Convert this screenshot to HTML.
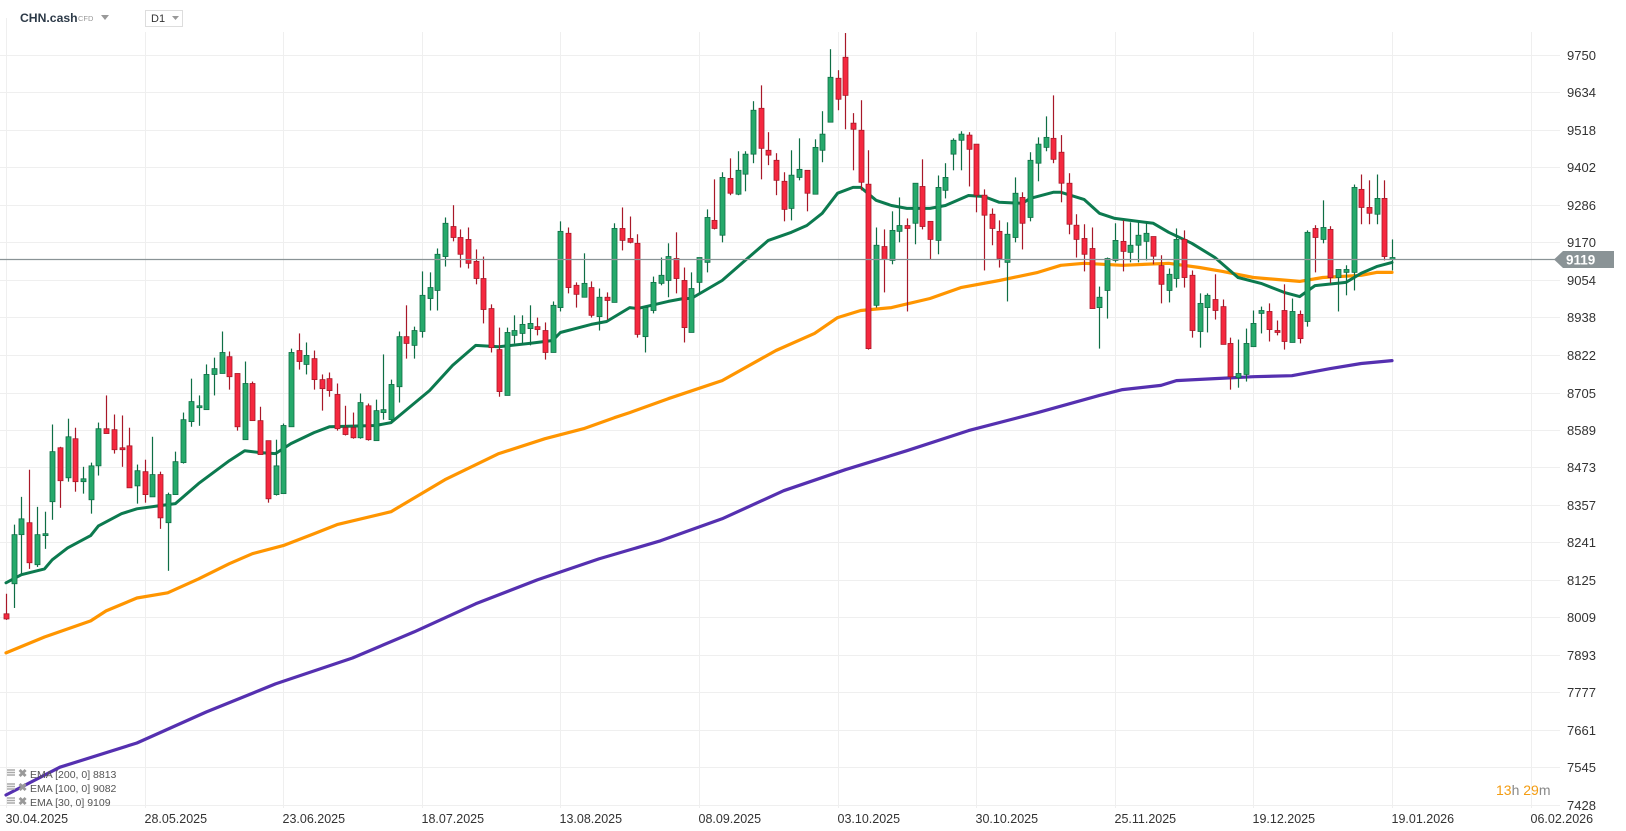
<!DOCTYPE html>
<html><head><meta charset="utf-8"><style>
html,body{margin:0;padding:0;background:#fff;}
svg{display:block;font-family:"Liberation Sans",sans-serif;}
</style></head><body>
<svg id="chart" width="1626" height="831" viewBox="0 0 1626 831">
  <g id="grid"></g>
  <g id="yaxis"></g>
  <g id="xaxis"></g>
  <g id="emas"></g>
  <g id="candles"></g>
  <g id="pricebox"></g>
  <g>
    <text x="20" y="22" font-size="12.2" font-weight="bold" fill="#2d3a48">CHN.cash</text>
    <text x="78" y="21" font-size="7.5" fill="#999">CFD</text>
    <path d="M101 15 L109 15 L105 20 Z" fill="#999"/>
    <rect x="145.5" y="10.5" width="37" height="16" fill="#fff" stroke="#ddd"/>
    <text x="151" y="22" font-size="11" fill="#333">D1</text>
    <path d="M172 16 L179 16 L175.5 20 Z" fill="#999"/>
  </g>
  <g id="legend"></g>
  <text x="1496" y="795" font-size="14"><tspan fill="#f39c12">13</tspan><tspan fill="#888">h </tspan><tspan fill="#f39c12">29</tspan><tspan fill="#888">m</tspan></text>
</svg>
<script>
const opens=[8020,8113,8265,8302,8172,8262,8367,8534,8441,8562,8429,8373,8478,8593,8590,8534,8540,8416,8460,8382,8451,8302,8389,8488,8615,8658,8652,8761,8764,8816,8764,8559,8733,8618,8556,8389,8392,8599,8835,8792,8810,8745,8748,8699,8596,8596,8565,8664,8556,8643,8621,8723,8878,8851,8894,8996,9021,9126,9219,9185,9179,9111,9058,8965,8838,8696,8882,8888,8903,8909,8897,8829,8968,9198,9037,9000,9030,8940,9000,8984,9213,9182,9167,8878,8959,9043,9052,9120,9052,8891,9046,9108,9238,9192,9368,9319,9381,9443,9585,9455,9424,9359,9275,9371,9393,9319,9455,9542,9678,9743,9539,9517,9350,8975,9157,9114,9204,9222,9229,9343,9235,9176,9331,9443,9486,9502,9474,9316,9257,9204,9108,9185,9309,9247,9415,9464,9492,9449,9353,9223,9182,9151,8968,9021,9114,9173,9139,9161,9173,9188,9098,9021,9058,9179,9068,8894,8968,8993,8971,8857,8751,8761,8847,8950,8956,8897,8959,8860,8947,8925,9213,9179,9210,9061,9077,9077,9334,9278,9257,9306,9117];
const closes=[8004,8265,8314,8178,8265,8268,8522,8432,8568,8429,8438,8478,8593,8578,8528,8528,8410,8463,8389,8451,8317,8389,8491,8621,8677,8664,8761,8779,8829,8754,8599,8733,8618,8513,8376,8478,8603,8829,8801,8820,8745,8717,8711,8593,8575,8565,8674,8559,8649,8652,8730,8878,8857,8897,9006,9030,9133,9229,9185,9133,9105,9058,8962,8844,8708,8891,8897,8916,8919,8900,8829,8975,9204,9030,9009,9043,8944,9000,8990,9213,9176,9170,8885,8968,9046,9068,9126,9058,8906,9027,9123,9247,9213,9371,9322,9393,9443,9579,9461,9440,9362,9272,9378,9396,9322,9464,9505,9681,9613,9625,9520,9356,8841,9161,9117,9207,9222,9213,9353,9219,9179,9340,9371,9486,9505,9458,9316,9254,9213,9120,9195,9322,9229,9424,9474,9495,9427,9353,9226,9179,9133,8965,9000,9120,9176,9142,9161,9192,9198,9127,9040,9071,9179,9061,8897,8981,9006,8959,8854,8754,8764,8857,8919,8959,8900,8891,8863,8956,8872,9201,9185,9216,9061,9086,9086,9340,9278,9260,9306,9126,9123];
const highs=[8082,8296,8382,8466,8351,8336,8606,8537,8624,8596,8475,8488,8612,8696,8637,8634,8596,8482,8497,8568,8460,8395,8522,8643,8748,8696,8792,8813,8894,8832,8764,8801,8739,8661,8556,8559,8609,8841,8888,8860,8835,8761,8767,8733,8664,8643,8702,8671,8683,8823,8745,8894,8975,8909,9080,9077,9151,9247,9285,9210,9216,9148,9126,8978,8906,8906,8944,8944,8975,8937,8922,8987,9235,9216,9046,9136,9049,9027,9015,9229,9278,9250,9195,8968,9064,9123,9167,9201,9092,9077,9123,9272,9365,9387,9430,9452,9452,9607,9656,9511,9446,9387,9455,9492,9393,9489,9576,9768,9703,9818,9570,9610,9455,9216,9210,9266,9309,9244,9353,9427,9235,9377,9415,9492,9514,9511,9474,9334,9275,9238,9232,9371,9325,9449,9495,9560,9625,9502,9384,9257,9226,9216,9033,9123,9229,9238,9232,9232,9232,9188,9130,9089,9213,9207,9083,9012,9012,9071,8993,8875,8869,8903,8959,8971,8981,8928,9040,8996,8959,9207,9223,9300,9220,9086,9099,9349,9380,9362,9380,9362,9179];
const lows=[8001,8038,8144,8159,8165,8221,8311,8348,8429,8398,8392,8330,8448,8578,8516,8475,8410,8361,8364,8382,8283,8153,8389,8485,8599,8602,8652,8696,8764,8714,8587,8559,8618,8513,8364,8386,8392,8599,8776,8761,8714,8649,8692,8587,8572,8562,8562,8556,8556,8621,8615,8674,8810,8810,8875,8959,8959,9095,9173,9092,9089,9040,8919,8829,8692,8696,8857,8857,8851,8882,8807,8829,8956,9012,8968,9000,8937,8897,8931,8984,9145,9167,8875,8829,8950,9037,9000,9012,8860,8891,9012,9077,9210,9170,9316,9316,9328,9415,9365,9409,9316,9235,9238,9362,9266,9319,9418,9542,9579,9520,9393,9331,8838,8968,9015,9102,9170,8956,9164,9210,9117,9133,9306,9393,9393,9343,9263,9083,9161,9092,8987,9170,9148,9235,9359,9452,9415,9294,9195,9123,9080,8965,8841,8934,9108,9080,9108,9108,9114,9102,8981,8984,9030,9030,8875,8844,8891,8931,8854,8714,8720,8739,8847,8888,8863,8882,8838,8860,8857,8909,9077,9167,9043,8956,9006,9021,9226,9226,9226,9114,9083];
const ema30Idx=[0,2,5,6,8,11,12,15,17,20,22,25,29,31,33,35,37,40,42,48,50,55,58,61,64,68,71,72,76,78,81,82,86,88,89,93,96,99,102,104,106,108,110,111,113,115,117,120,122,125,127,129,132,133,136,137,140,142,144,149,151,154,157,160,163,166,168,170,174,176,178,180];
const ema30=[8116,8141,8159,8187,8224,8262,8292,8330,8345,8355,8361,8423,8494,8525,8519,8516,8547,8581,8599,8603,8612,8711,8789,8851,8847,8857,8866,8891,8916,8925,8968,8965,8987,8996,8996,9052,9114,9176,9201,9222,9260,9322,9340,9340,9300,9284,9275,9275,9284,9315,9312,9294,9291,9306,9325,9325,9303,9260,9244,9229,9201,9167,9123,9061,9043,9015,9002,9036,9046,9074,9095,9108];
const ema100Idx=[0,5,11,13,17,21,25,29,32,36,40,43,50,57,64,70,75,79,81,86,93,100,105,108,111,115,120,124,129,134,137,140,145,151,155,158,162,168,171,176,178,180];
const ema100=[7899,7948,7998,8029,8069,8085,8128,8175,8206,8231,8268,8296,8336,8435,8516,8562,8593,8627,8643,8686,8742,8835,8888,8937,8959,8968,8996,9030,9052,9077,9099,9105,9099,9105,9092,9080,9061,9049,9061,9068,9077,9077];
const ema200Idx=[0,7,17,26,35,45,53,61,69,77,85,93,101,109,117,125,134,142,145,150,152,157,162,167,172,176,180];
const ema200=[7459,7545,7620,7716,7803,7883,7964,8051,8125,8190,8246,8314,8401,8466,8525,8587,8643,8696,8714,8727,8742,8748,8754,8757,8779,8795,8804];
const yTicks=[9750,9634,9518,9402,9286,9170,9054,8938,8822,8705,8589,8473,8357,8241,8125,8009,7893,7777,7661,7545,7428];
const xTickLabels=["30.04.2025","28.05.2025","23.06.2025","18.07.2025","13.08.2025","08.09.2025","03.10.2025","30.10.2025","25.11.2025","19.12.2025","19.01.2026","06.02.2026"];
const xTickIdx=[0,18,36,54,72,90,108,126,144,162,180,198];
const lastPrice=[9119];
const legendNames=["EMA [200, 0]","EMA [100, 0]","EMA [30, 0]"];
const legendValues=[8813,9082,9109];

const NS="http://www.w3.org/2000/svg";
const Y_TOP=9750,Y_BOT=7428,PY_TOP=55,PY_BOT=805;
function yS(p){return PY_TOP+(Y_TOP-p)*(PY_BOT-PY_TOP)/(Y_TOP-Y_BOT);}
function xS(i){return 6+i*7.7;}
function mk(tag,attrs,parent){const e=document.createElementNS(NS,tag);for(const k in attrs)e.setAttribute(k,attrs[k]);parent.appendChild(e);return e;}

const grid=document.getElementById('grid'),yaxis=document.getElementById('yaxis'),xaxis=document.getElementById('xaxis');
yTicks.forEach(v=>{
  const y=Math.round(yS(v))+0.5;
  const l=mk('line',{x1:0,x2:1560,y1:y,y2:y,stroke:'#efefef','stroke-width':1},grid);
  
  
  const t=mk('text',{x:1567,y:y+4.5,'font-size':13,fill:'#333'},yaxis);
  t.textContent=String(v);
  
  
});
xTickIdx.forEach((ix,k)=>{
  const x=Math.round(xS(ix))+0.5;
  const l=mk('line',{x1:x,x2:x,y1:(k===0?18:32),y2:808,stroke:'#efefef','stroke-width':1},grid);
  
  
  const t=mk('text',{x:x-1,y:823,'font-size':12.5,fill:'#333'},xaxis);
  t.textContent=xTickLabels[k];
  
  
});

const pb=document.getElementById('pricebox');
const py=Math.round(yS(lastPrice[0]))+0.5;
const pl=mk('line',{x1:0,x2:1556,y1:py,y2:py,stroke:'#8a9396','stroke-width':1.3},pb);


const pp=mk('path',{d:`M1554 ${py} L1563 ${py-8.5} L1614 ${py-8.5} L1614 ${py+8.5} L1563 ${py+8.5} Z`,fill:'#8a9396'},pb);


const pt=mk('text',{x:1566,y:py+5,'font-size':13.5,'font-weight':'bold',fill:'#fff'},pb);
pt.textContent=String(lastPrice[0]);



const emas=document.getElementById('emas');
function drawLine(idx,vals,color,w,name){
  const d=idx.map((ix,k)=>(k?'L':'M')+xS(ix).toFixed(1)+' '+yS(vals[k]).toFixed(1)).join(' ');
  const p=mk('path',{d:d,fill:'none',stroke:color,'stroke-width':w,'stroke-linejoin':'round','stroke-linecap':'round'},emas);
  
  
}
drawLine(ema200Idx,ema200,'#5530b0',3.2,'ema-200-line');
drawLine(ema100Idx,ema100,'#ff9500',3.2,'ema-100-line');
drawLine(ema30Idx,ema30,'#0c7a4f',3,'ema-30-line');

const cg=document.getElementById('candles');
for(let i=0;i<opens.length;i++){
  const up=closes[i]>=opens[i];
  const fill=up?'#26a96b':'#f5283f',edge=up?'#0e6e45':'#a81828';
  const x=Math.round(xS(i));
  const g=mk('g',{},cg);
  
  
  mk('line',{x1:x+0.5,x2:x+0.5,y1:yS(highs[i]),y2:yS(lows[i]),stroke:edge,'stroke-width':1.2},g);
  const top=yS(Math.max(opens[i],closes[i])),bot=yS(Math.min(opens[i],closes[i]));
  mk('rect',{x:x-2,y:top,width:5,height:Math.max(1.5,bot-top),fill:fill,stroke:edge,'stroke-width':0.8},g);
}

const lg=document.getElementById('legend');
legendNames.forEach((n,k)=>{
  const y=777+k*14;
  const ic=mk('path',{d:`M7 ${y-7} h8 M7 ${y-4.5} h8 M7 ${y-2} h8`,stroke:'#aaa','stroke-width':1.6},lg);
  
  
  const x=mk('text',{x:18,y:y,'font-size':11,fill:'#999','font-weight':'bold'},lg);
  x.textContent='✖';
  
  
  const t=mk('text',{x:30,y:y+1,'font-size':10.5,fill:'#555'},lg);
  t.textContent=n+' '+legendValues[k];
  
  
});
</script>
</body></html>
